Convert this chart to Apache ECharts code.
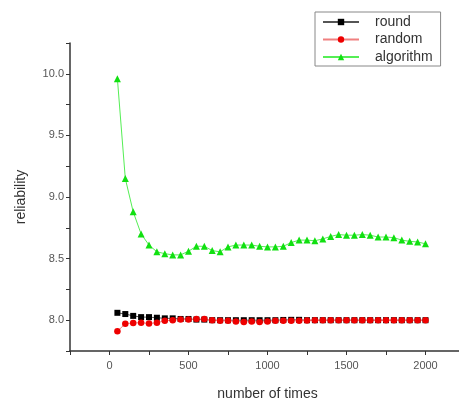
<!DOCTYPE html>
<html><head><meta charset="utf-8">
<script src="https://cdn.jsdelivr.net/npm/echarts@6/dist/echarts.min.js"></script>
<style>html,body{margin:0;padding:0;background:#fff}#c{width:459px;height:399px}</style>
</head><body><div id="c"></div>
<script>
const xValues = [50,100,150,200,250,300,350,400,450,500,550,600,650,700,750,800,850,900,950,1000,1050,1100,1150,1200,1250,1300,1350,1400,1450,1500,1550,1600,1650,1700,1750,1800,1850,1900,1950,2000];
const roundValues = [8.06,8.05,8.035,8.025,8.025,8.02,8.015,8.015,8.01,8.01,8.005,8.005,8.0,8.0,8.0,8.0,8.0,8.0,8.0,8.0,8.0,8.002,8.003,8.003,8.0,8.0,8.0,8.0,8.0,8.0,8.0,8.0,8.0,8.0,8.0,8.0,8.0,8.0,8.0,8.0];
const randomValues = [7.91,7.972,7.977,7.98,7.973,7.98,7.995,8.0,8.005,8.005,8.01,8.01,8.0,7.995,7.995,7.99,7.985,7.99,7.985,7.99,7.995,7.995,7.995,7.995,7.998,8.0,8.0,8.0,8.0,8.0,8.0,8.0,8.0,8.0,8.0,8.0,8.0,8.0,8.0,8.0];
const algorithmValues = [9.96,9.15,8.88,8.70,8.61,8.555,8.54,8.53,8.53,8.56,8.60,8.60,8.565,8.555,8.595,8.61,8.61,8.61,8.60,8.595,8.595,8.60,8.63,8.65,8.65,8.645,8.66,8.68,8.695,8.69,8.69,8.695,8.69,8.675,8.675,8.67,8.65,8.64,8.635,8.62];
const seriesNames = ['round','random','algorithm'];

const pair = v => xValues.map((x,i)=>[x,v[i]]);
const font = 'Liberation Sans, Arial, sans-serif';
const chart = echarts.init(document.getElementById('c'), null, {renderer:'canvas'});
chart.setOption({
  animation:false,
  backgroundColor:'#fff',
  grid:{left:70, top:43, width:395, height:308, outerBoundsMode:'none', containLabel:false},
  legend:{
    orient:'vertical', left:315, top:12,
    padding:[3,8,2,7], itemGap:3.5, itemWidth:36, itemHeight:8,
    borderColor:'#888', borderWidth:1,
    textStyle:{fontFamily:font, fontSize:14, color:'#333', padding:[0,0,0,11]},
    data:seriesNames
  },
  xAxis:{
    type:'value', min:-250, max:2250, interval:250,
    name:'number of times', nameLocation:'middle', nameGap:36,
    nameTextStyle:{fontFamily:font, fontSize:14, color:'#333'},
    axisLine:{show:true, onZero:false, lineStyle:{color:'#333', width:1.5}},
    axisTick:{show:true, length:4, lineStyle:{color:'#333'}},
    axisLabel:{fontFamily:font, fontSize:11, color:'#555', margin:9,
      formatter:v=> (Math.round(v)%500===0 ? String(v) : '')},
    splitLine:{show:false}
  },
  yAxis:{
    type:'value', min:7.75, max:10.25, interval:0.25,
    name:'reliability', nameLocation:'middle', nameGap:42, nameRotate:90,
    nameTextStyle:{fontFamily:font, fontSize:14, color:'#333'},
    axisLine:{show:true, onZero:false, lineStyle:{color:'#333', width:1.5}},
    axisTick:{show:true, length:4, lineStyle:{color:'#333'}},
    axisLabel:{fontFamily:font, fontSize:11, color:'#555', margin:6,
      formatter:v=> (Math.abs(v*2-Math.round(v*2))<1e-6 ? v.toFixed(1) : '')},
    splitLine:{show:false}
  },
  series:[
    {name:seriesNames[0], type:'line', data:pair(roundValues), symbol:'rect', symbolSize:6,
     itemStyle:{color:'#000'}, lineStyle:{color:'#555', width:1}},
    {name:seriesNames[1], type:'line', data:pair(randomValues), symbol:'circle', symbolSize:6.5,
     itemStyle:{color:'#ee0000'}, lineStyle:{color:'#f08080', width:1}},
    {name:seriesNames[2], type:'line', data:pair(algorithmValues), symbol:'triangle', symbolSize:7,
     itemStyle:{color:'#11e011'}, lineStyle:{color:'#55ee55', width:1}}
  ]
});
</script></body></html>
